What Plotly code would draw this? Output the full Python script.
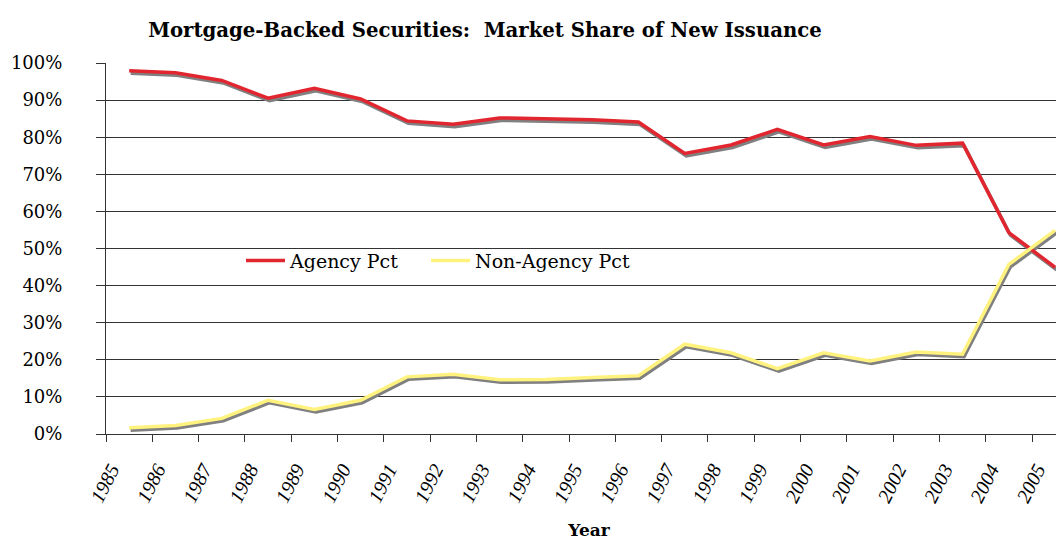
import plotly.graph_objects as go

years = [str(y) for y in range(1985, 2006)]
agency_pct = [97.9, 97.4, 95.3, 90.5, 93.2, 90.3, 84.4, 83.5, 85.2, 85.0, 84.7,
              84.1, 75.6, 77.9, 82.1, 77.9, 80.2, 77.8, 78.4, 54.3, 44.9]
non_agency_pct = [1.7, 2.3, 4.2, 9.1, 6.6, 9.1, 15.4, 16.1, 14.6, 14.7, 15.2,
                  15.7, 24.2, 21.9, 17.6, 21.9, 19.7, 22.1, 21.5, 45.7, 54.9]
y_ticks = list(range(0, 101, 10))
y_tick_text = [f"{v}%" for v in y_ticks]

title_text = "Mortgage-Backed Securities: \u00a0Market Share of New Issuance"
x_title = "Year"

RED = "#E2262F"
YELLOW = "#FFF27F"
SHADOW = "#808080"
GRID = "#333333"
FONT = "DejaVu Serif"

W, H = 1064, 540
ML, MR, MT, MB = 98, 0, 55, 114
plot_w = W - ML - MR
cat_px = 46.3
xr = [-0.5, -0.5 + plot_w / cat_px]
plot_h = H - MT - MB
shadow_dx = 1.5 / cat_px
shadow_dy = 2.5 * 100 / plot_h

fig = go.Figure()

# shadows on the (hidden) base axes, shifted slightly right/down
for vals in (agency_pct, non_agency_pct):
    fig.add_trace(go.Scatter(x=years, y=vals, mode="lines", xaxis="x", yaxis="y",
                             line=dict(color=SHADOW, width=3.5), showlegend=False,
                             hoverinfo="skip"))

fig.add_trace(go.Scatter(x=years, y=agency_pct, mode="lines", name="Agency Pct",
                         xaxis="x2", yaxis="y2", line=dict(color=RED, width=3.5),
                         legend="legend"))
fig.add_trace(go.Scatter(x=years, y=non_agency_pct, mode="lines", name="Non-Agency Pct",
                         xaxis="x2", yaxis="y2", line=dict(color=YELLOW, width=3.5),
                         legend="legend2"))

legend_y = (426.4 - 253) / plot_h
legend_common = dict(orientation="h", xanchor="left", y=legend_y, yanchor="middle",
                     bgcolor="rgba(0,0,0,0)", font=dict(family=FONT, size=19),
                     itemwidth=39)

fig.update_layout(
    width=W, height=H,
    margin=dict(l=ML, r=MR, t=MT, b=MB, autoexpand=False),
    paper_bgcolor="white", plot_bgcolor="white",
    font=dict(family=FONT, color="black", size=17),
    title=dict(text=title_text, x=477 / W, xanchor="center", xref="container",
               y=1 - 22 / H, yanchor="middle", yref="container",
               font=dict(family=FONT, size=19.7, weight="bold", color="black")),
    xaxis=dict(type="category", categoryorder="array", categoryarray=years,
               range=[xr[0] - shadow_dx, xr[1] - shadow_dx], visible=False,
               showgrid=False, zeroline=False, domain=[0, 1]),
    yaxis=dict(range=[shadow_dy, 100 + shadow_dy], visible=False, showgrid=False,
               zeroline=False, domain=[0, 1]),
    xaxis2=dict(type="category", categoryorder="array", categoryarray=years,
                overlaying="x", anchor="y2", side="bottom",
                range=xr, tickson="boundaries", ticks="outside", ticklen=7,
                tickcolor=GRID, showline=True, linecolor=GRID, linewidth=1,
                showgrid=False, tickangle=-63, automargin=False,
                ticklabelshift=-18, ticklabelstandoff=15,
                tickfont=dict(family="Liberation Serif", size=20, style="italic"),
                title=dict(text=x_title, standoff=19,
                           font=dict(family=FONT, size=17, weight="bold"))),
    yaxis2=dict(overlaying="y", anchor="x2", side="left",
                range=[0, 100], tickmode="array", tickvals=y_ticks,
                ticktext=y_tick_text, ticks="outside",
                ticklen=9, tickcolor=GRID, showline=True, linecolor=GRID,
                linewidth=1, showgrid=True, gridcolor=GRID, gridwidth=1,
                zeroline=False, ticklabelstandoff=30, automargin=False,
                tickfont=dict(family=FONT, size=18)),
    legend=dict(x=(233 - ML) / plot_w, **legend_common),
    legend2=dict(x=(418 - ML) / plot_w, **legend_common),
    showlegend=True,
)

fig.write_html("out.html")
